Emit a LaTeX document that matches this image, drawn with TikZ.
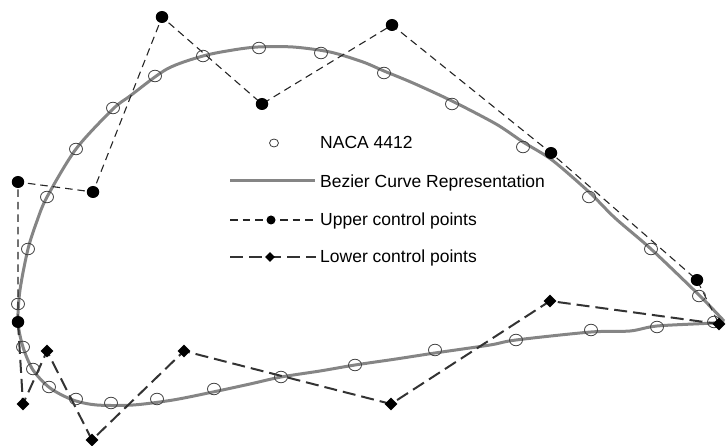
\documentclass[tikz,border=0pt]{standalone}
\usepackage{fontspec}
\setmainfont{Liberation Sans}
\usetikzlibrary{shapes.geometric}
\begin{document}
\begin{tikzpicture}[x=1pt,y=-1pt,
 naca/.style={draw=black!75, line width=0.8pt, ellipse, minimum width=13pt, minimum height=11.5pt, inner sep=0pt},
 nacasmall/.style={naca, minimum width=9pt, minimum height=8pt},
 upt/.style={fill=black, ellipse, minimum width=12.5pt, minimum height=12pt, inner sep=0pt},
 uptsmall/.style={upt, minimum width=9pt, minimum height=9pt},
 lpt/.style={fill=black, diamond, minimum width=13pt, minimum height=13pt, inner sep=0pt},
 lptsmall/.style={lpt, minimum width=10pt, minimum height=10pt},
 bez/.style={draw=black!48, line width=3pt, line join=round},
 upoly/.style={draw=black!85, line width=1.1pt, dash pattern=on 7.5pt off 5pt},
 lpoly/.style={draw=black!80, line width=2pt, dash pattern=on 13pt off 6pt},
 lbl/.style={anchor=base west, inner sep=0pt, font=\fontsize{17.5}{20}\selectfont}]
\useasboundingbox (0,0) rectangle (726,446);

% Bezier curve representation
\draw[bez] plot[smooth, tension=0.5] coordinates {
 (724,321) (699,295) (651,249) (615,218) (589,192) (552,160) (523,142)
 (496,124) (452,101) (413,83) (384,71) (363,62) (330,52) (293,47) (258,47)
 (233,50) (203,56) (167,69) (130,96) (113,109) (76,149) (47,197) (37,221)
 (28,249) (20,290) (18,322) (23,347) (33,370) (50,388) (73,400) (97,405)
 (133,405) (173,400) (213,392) (250,384) (281,377) (320,371) (355,365)
 (396,359) (435,353) (490,345) (516,340) (591,332) (630,331) (657,326)
 (713,323) (724,321)};

% control point nodes
\coordinate (u0) at (18,322);
\coordinate (u1) at (18,182);
\coordinate (u2) at (93,192);
\coordinate (u3) at (162,17);
\coordinate (u4) at (262,104);
\coordinate (u5) at (392,25);
\coordinate (u6) at (551,153);
\coordinate (u7) at (697,280);
\coordinate (te) at (719,324);
\coordinate (l1) at (23,404);
\coordinate (l2) at (47,351);
\coordinate (l3) at (92,440);
\coordinate (l4) at (184,351);
\coordinate (l5) at (391,404);
\coordinate (l6) at (550,301);

% polygons
\draw[upoly] (u0) -- (u1) -- (u2) -- (u3) -- (u4) -- (u5) -- (u6) -- (u7) -- (te);
\draw[lpoly] (u0) -- (l1) -- (l2) -- (l3) -- (l4) -- (l5) -- (l6) -- (te);

% NACA 4412 points
\foreach \p [count=\i] in {(714,322),(699,296),(651,249),(589,197),(523,147),(452,104),(384,73),
  (321,53),(259,48),(203,56),(155,76),(113,108),(76,149),(47,197),(28,249),(18,304),
  (23,347),(33,369),(49,387),(76,399),(111,403),(157,399),(214,389),(281,377),(355,365),
  (435,350),(516,340),(591,330),(657,327)}
  \node[naca] (n\i) at \p {};

% markers
\foreach \c in {u0,u1,u2,u3,u4,u5,u6,u7} \node[upt] (m\c) at (\c) {};
\foreach \c in {l1,l2,l3,l4,l5,l6,te} \node[lpt] (m\c) at (\c) {};

% legend
\node[nacasmall] (legnaca) at (274,143) {};
\node[lbl] (t1) at (320,149) {NACA 4412};
\coordinate (b1) at (230,181); \coordinate (b2) at (315,181);
\draw[bez] (b1) -- (b2);
\node[lbl] (t2) at (320,188) {Bezier Curve Representation};
\coordinate (c1) at (230,220); \coordinate (c2) at (316,220);
\draw[upoly] (c1) -- (c2);
\node[uptsmall] (legu) at (271,220) {};
\node[lbl] (t3) at (320,226) {Upper control points};
\coordinate (d1) at (230,257); \coordinate (d2) at (316,257);
\draw[lpoly] (d1) -- (d2);
\node[lptsmall] (legl) at (270,257) {};
\node[lbl] (t4) at (320,263) {Lower control points};
\end{tikzpicture}
\end{document}
